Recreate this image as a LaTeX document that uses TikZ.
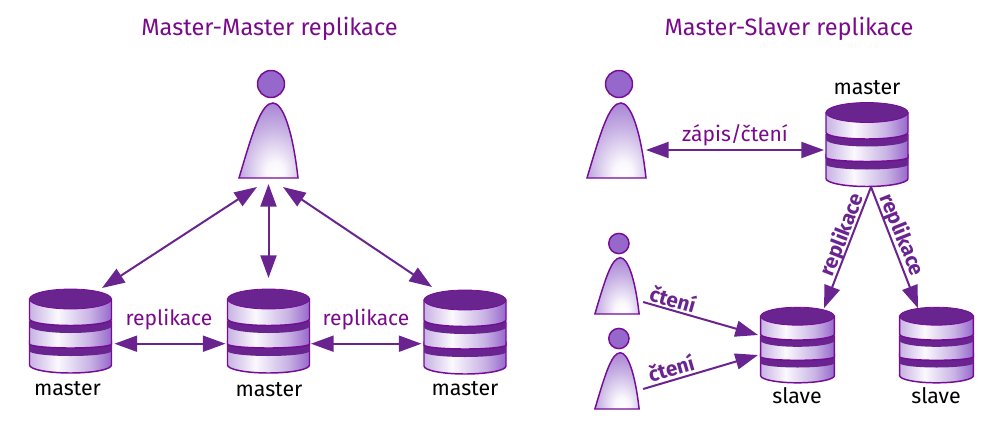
\documentclass[tikz,border=0pt]{standalone}
\usepackage{fontspec}
\setmainfont{Fira Sans}
\usetikzlibrary{arrows.meta}

\definecolor{plum}{HTML}{6A2490}
\definecolor{edgeplum}{HTML}{750C96}
\definecolor{midplum}{HTML}{9768CC}
\definecolor{paleplum}{HTML}{C8B2E4}
\definecolor{titleplum}{HTML}{7A0A8C}

\pgfdeclarehorizontalshading{dbshade}{100bp}{
	color(0bp)=(paleplum); color(25bp)=(paleplum); color(42bp)=(white!92!paleplum);
	color(62bp)=(paleplum); color(75bp)=(midplum); color(100bp)=(midplum)}
\pgfdeclareradialshading{usershade}{\pgfpoint{6bp}{-24bp}}{
	color(0bp)=(white); color(8bp)=(white!90!paleplum); color(26bp)=(paleplum); color(48bp)=(midplum); color(100bp)=(midplum)}

\begin{document}
\begin{tikzpicture}[
		x=0.75pt,y=-0.75pt,
		>={Triangle[length=17pt,width=12pt]},
		link/.style={plum,line width=1.5pt,<->},
		flow/.style={plum,line width=1.5pt,->},
		segment/.style={draw=edgeplum,line width=1.1pt,shading=dbshade},
		band/.style={fill=plum},
		box/.style={inner sep=0pt,outer sep=0pt,transform shape},
		heading/.style={text=titleplum,font=\fontsize{17.7}{20}\selectfont},
		caption/.style={font=\fontsize{16}{18}\selectfont},
		tag/.style={text=titleplum,font=\fontsize{15.8}{18}\selectfont},
		boldtag/.style={text=plum,font=\fontsize{15.5}{18}\selectfont\bfseries},
		db/.pic={
			%lower disc
			\path[segment] (-41,10) -- (-41,34) arc[start angle=180,end angle=0,x radius=41,y radius=8] -- (41,10) -- cycle;
			\fill[band] (-41,10) -- (-41,20) arc[start angle=180,end angle=0,x radius=41,y radius=5] -- (41,10) -- cycle;
			%middle disc
			\path[segment] (-41,-10) -- (-41,13) arc[start angle=180,end angle=0,x radius=41,y radius=4] -- (41,-10) -- cycle;
			\fill[band] (-41,-10) -- (-41,-5) arc[start angle=180,end angle=0,x radius=41,y radius=7] -- (41,-10) -- cycle;
			%upper disc
			\path[segment] (-41,-32) -- (-41,-12) arc[start angle=180,end angle=0,x radius=41,y radius=6.5] -- (41,-32) -- cycle;
			\draw[edgeplum,line width=.6pt,fill=plum] (0,-32) ellipse[x radius=41,y radius=10];
			\node[box,minimum width=61.5pt,minimum height=63pt] (-n) at (0,0) {};
		},
		user/.pic={
			\path[draw=edgeplum,line width=1.1pt,shading=usershade] (-29.5,54) .. controls (-15,5) and (-7,-21) .. (4.5,-21)
				.. controls (14,-21) and (24,5) .. (29.5,54) -- cycle;
			\draw[edgeplum,line width=1.1pt,fill=midplum] (2.5,-40) circle[radius=13.5];
			\node[box,minimum width=44.25pt,minimum height=81pt] (-n) at (0,0) {};
		}
	]

		\useasboundingbox (0,0) rectangle (1005,435);

		%left part
		\node[heading] (title1) at (269.5,29) {Master-Master replikace};
		\pic (u1) at (268.5,124) {user};
		\pic (d1) at (70.5,331) {db};
		\pic (d2) at (268.5,331) {db};
		\pic (d3) at (465,332) {db};
		\node[caption] (cap1) at (67.5,389) {master};
		\node[caption] (cap2) at (269,390) {master};
		\node[caption] (cap3) at (465,389) {master};

		\draw[link] ([shift={(-11.5,9)}]u1-n.south) -- ([shift={(31.5,-1)}]d1-n.north);
		\draw[link] ([shift={(0,6)}]u1-n.south) -- ([shift={(0,-11)}]d2-n.north);
		\draw[link] ([shift={(14.5,9)}]u1-n.south) -- ([shift={(-33,-3)}]d3-n.north);
		\draw[link] ([shift={(3,12.7)}]d1-n.east) -- ([shift={(-2,12.7)}]d2-n.west);
		\draw[link] ([shift={(1.5,12.7)}]d2-n.east) -- ([shift={(-2.5,11.7)}]d3-n.west);
		\node[tag] (rep1) at (169,320) {replikace};
		\node[tag] (rep2) at (366,320) {replikace};

		%right part
		\node[heading] (title2) at (789,29) {Master-Slaver replikace};
		\pic (u2) at (616.5,124) {user};
		\pic[scale=.75] (u3) at (617,273.5) {user};
		\pic[scale=.75] (u4) at (617,368.5) {user};
		\pic (m) at (867,144.5) {db};
		\pic[scale=.9] (s1) at (797.5,345) {db};
		\pic[scale=.9] (s2) at (936.5,345) {db};
		\node[caption] (cap4) at (867,88) {master};
		\node[caption] (cap5) at (797,396) {slave};
		\node[caption] (cap6) at (936,396) {slave};

		\draw[link] ([shift={(0,26)}]u2-n.east) -- ([shift={(-2,5.5)}]m-n.west);
		\node[tag] (rw) at (735,135) {zápis/čtení};
		\draw[flow] ([shift={(4,.5)}]m-n.south) -- ([shift={(26.5,1)}]s1-n.north);
		\draw[flow] ([shift={(4,.5)}]m-n.south) -- ([shift={(-18.5,1)}]s2-n.north);
		\node[boldtag,rotate=68.8] (rep3) at (842.7,235) {replikace};
		\node[boldtag,rotate=-68] (rep4) at (901.6,235) {replikace};
		\draw[flow] ([shift={(4,28.5)}]u3-n.east) -- ([shift={(-2.6,-10)}]s1-n.west);
		\draw[flow] ([shift={(4,20.5)}]u4-n.east) -- ([shift={(-2.6,10)}]s1-n.west);
		\node[boldtag,rotate=-16] (read1) at (673,299) {čtení};
		\node[boldtag,rotate=16] (read2) at (671,368) {čtení};
	\end{tikzpicture}
\end{document}
